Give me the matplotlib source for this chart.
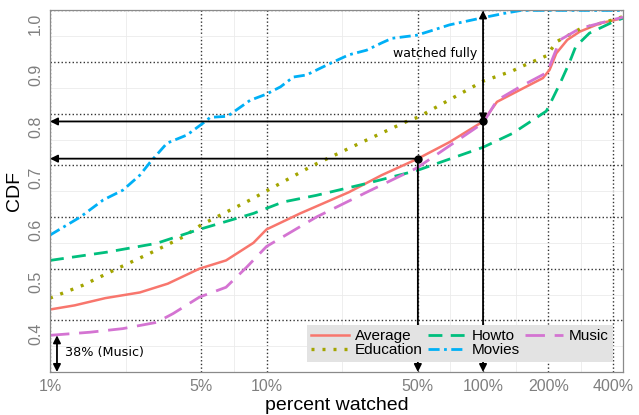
import numpy as np
import matplotlib
matplotlib.use('Agg')
import matplotlib.pyplot as plt
from matplotlib.ticker import FixedLocator, NullFormatter
from matplotlib.transforms import ScaledTranslation

# percent watched (x) and CDF (y)
avg_x = [1, 1.3, 1.8, 2.6, 3.5, 4.9, 6.5, 8.7, 10, 14.3, 24, 34, 50, 70, 100,
         116, 148, 189, 203, 218, 245, 280, 347, 443]
avg_y = [0.421, 0.429, 0.443, 0.454, 0.471, 0.50, 0.516, 0.55, 0.576, 0.607,
         0.648, 0.681, 0.713, 0.745, 0.785, 0.823, 0.846, 0.869, 0.885, 0.917,
         0.943, 0.959, 0.975, 0.985]

edu_x = [1, 1.42, 2.04, 2.9, 4.1, 5, 8.4, 16.4, 27, 46, 50, 100, 137, 148,
         196, 211, 220, 280, 400, 443]
edu_y = [0.443, 0.468, 0.50, 0.53, 0.561, 0.585, 0.633, 0.70, 0.743, 0.788,
         0.793, 0.863, 0.883, 0.89, 0.912, 0.93, 0.94, 0.964, 0.982, 0.988]

how_x = [1, 1.83, 3.1, 4.8, 8.7, 11.9, 17, 29, 49.5, 100, 137, 196, 210,
         227, 250, 268, 310, 400, 443]
how_y = [0.516, 0.532, 0.549, 0.575, 0.607, 0.629, 0.642, 0.665, 0.69, 0.735,
         0.762, 0.805, 0.83, 0.859, 0.898, 0.93, 0.956, 0.978, 0.985]

mov_x = [1, 1.38, 1.76, 2.17, 2.6, 2.9, 3.47, 4.3, 5.1, 5.5, 6.6, 8.4, 10,
         11.6, 13.3, 15.3, 17.7, 20.3, 24, 29, 34, 38, 49.5, 59, 70, 100,
         128, 150, 443]
mov_y = [0.565, 0.60, 0.633, 0.652, 0.681, 0.706, 0.743, 0.759, 0.782, 0.793,
         0.795, 0.826, 0.838, 0.852, 0.871, 0.875, 0.888, 0.90, 0.914, 0.923,
         0.937, 0.946, 0.952, 0.962, 0.972, 0.986, 0.995, 1.0, 1.0]

mus_x = [1, 1.53, 2.17, 3.1, 3.7, 4.9, 6.5, 8.1, 10, 17, 29, 49.5, 100, 116,
         148, 198, 211, 227, 280, 443]
mus_y = [0.371, 0.377, 0.384, 0.396, 0.413, 0.445, 0.464, 0.503, 0.543, 0.60,
         0.648, 0.695, 0.782, 0.826, 0.852, 0.88, 0.91, 0.943, 0.965, 0.987]

half_cdf = 0.713   # Average at 50%
full_cdf = 0.785   # Average at 100%
music_start = 0.371

xticks = [1, 5, 10, 50, 100, 200, 400]
xlabels = ['1%', '5%', '10%', '50%', '100%', '200%', '400%']
yticks = [0.4, 0.5, 0.6, 0.7, 0.8, 0.9, 1.0]

fig = plt.figure(figsize=(6.39, 4.15), dpi=100)
ax = fig.add_axes([50/639, 43/415, 573/639, 361.6/415])

lw = 2.0
ax.plot(avg_x, avg_y, color='#F8766D', lw=1.8, label='Average')
ax.plot(edu_x, edu_y, color='#A3A500', lw=2.4, ls=(0, (0.9, 2.4)), label='Education')
ax.plot(how_x, how_y, color='#00BF7D', lw=lw, ls=(0, (5, 3)), label='Howto')
ax.plot(mov_x, mov_y, color='#00B0F6', lw=lw, ls=(0, (4, 1.6, 1, 1.6)), label='Movies')
ax.plot(mus_x, mus_y, color='#D474D2', lw=lw, ls=(0, (7, 3.5)), label='Music')

ax.set_xscale('log')
ax.set_xlim(1, 443)
ax.set_ylim(0.3, 1.0)

ax.xaxis.set_major_locator(FixedLocator(xticks))
ax.set_xticklabels(xlabels)
ax.xaxis.set_minor_locator(FixedLocator(
    [np.sqrt(a * b) for a, b in zip(xticks[:-1], xticks[1:])]))
ax.xaxis.set_minor_formatter(NullFormatter())
ax.set_yticks(yticks)
ax.set_yticklabels(['%.1f' % v for v in yticks], rotation=90, va='center')
ax.yaxis.set_minor_locator(FixedLocator(np.arange(0.35, 1.0, 0.1)))

ax.grid(which='major', linestyle=':', color='#333333', lw=1.0)
ax.grid(which='minor', linestyle='-', color='#ebebeb', lw=0.6)
ax.set_axisbelow(True)

for s in ax.spines.values():
    s.set_color('#8a8a8a')
    s.set_linewidth(0.9)
ax.tick_params(which='both', length=0)
ax.tick_params(axis='x', labelsize=11.5, colors='#7f7f7f', pad=5)
ax.tick_params(axis='y', labelsize=11.5, colors='#7f7f7f', pad=5)
for lab in ax.get_yticklabels():
    lab.set_transform(lab.get_transform() + ScaledTranslation(0, -0.13, fig.dpi_scale_trans))
for lab in ax.get_xticklabels() + ax.get_yticklabels():
    lab.set_fontfamily('Liberation Sans')

ax.set_xlabel('percent watched', fontsize=14, family='Liberation Sans', labelpad=2)
ax.set_ylabel('CDF', fontsize=14, family='Liberation Sans', labelpad=4)

# arrows and markers
arr = dict(arrowstyle='-|>', color='black', lw=1.3, shrinkA=0, shrinkB=0,
           mutation_scale=11)
ax.annotate('', xy=(1, full_cdf), xytext=(100, full_cdf), arrowprops=arr)
ax.annotate('', xy=(1, half_cdf), xytext=(50, half_cdf), arrowprops=arr)
ax.annotate('', xy=(50, 0.3), xytext=(50, half_cdf), arrowprops=arr)
ax.annotate('', xy=(100, 0.3), xytext=(100, full_cdf), arrowprops=arr)
arr2 = dict(arr, arrowstyle='<|-|>')
ax.annotate('', xy=(100, 1.0), xytext=(100, full_cdf), arrowprops=arr2)
ax.annotate('', xy=(1.077, 0.3), xytext=(1.077, music_start), arrowprops=arr2)
ax.plot([50, 100], [half_cdf, full_cdf], 'o', color='black', ms=5, zorder=6)

ax.text(1.17, 0.338, '38% (Music)', fontsize=9.2, va='center', ha='left')
ax.text(60, 0.917, 'watched fully', fontsize=9, va='center', ha='center')

leg = ax.legend(ncol=3, loc='lower right', bbox_to_anchor=(0.9825, 0.028),
                prop={'family': 'Liberation Sans', 'size': 11},
                frameon=True, fancybox=False, facecolor='#e3e3e3',
                edgecolor='none', framealpha=1, borderpad=0.3,
                labelspacing=0.0, handlelength=2.5, handletextpad=0.35,
                columnspacing=0.35, borderaxespad=0)
leg.set_zorder(7)

fig.savefig('out.png', dpi=100)
